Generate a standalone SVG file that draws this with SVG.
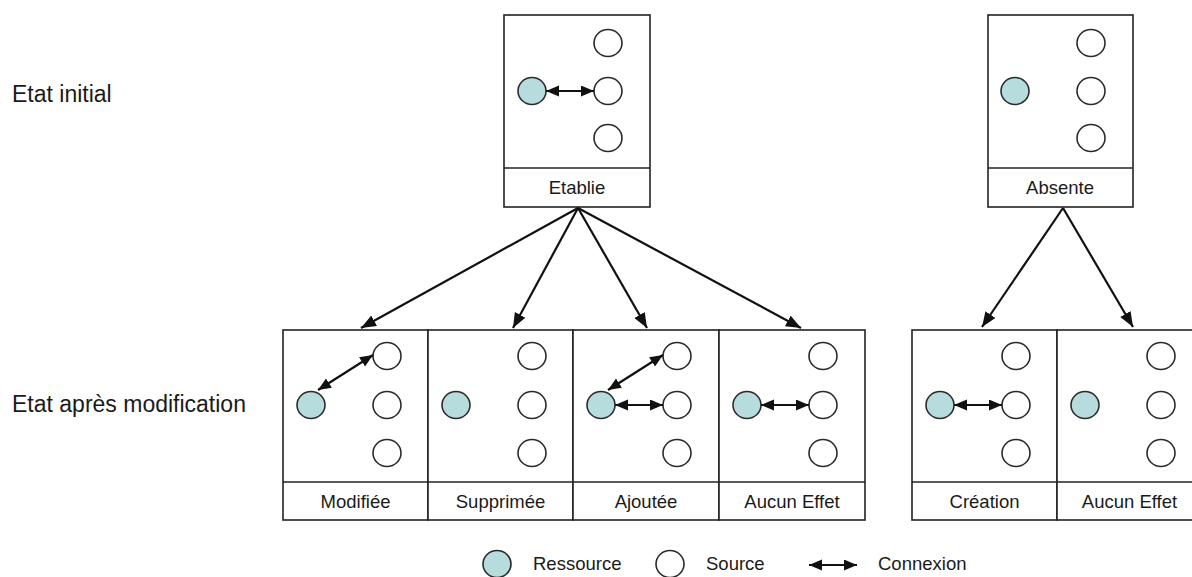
<svg xmlns="http://www.w3.org/2000/svg" width="1192" height="577" viewBox="0 0 1192 577">
<defs>
<style>
.box{fill:#fff;stroke:#222;stroke-width:1.6}
.sep{stroke:#222;stroke-width:1.6}
.res{fill:#b7dcdd;stroke:#2a2a2a;stroke-width:1.6}
.src{fill:#fff;stroke:#2a2a2a;stroke-width:1.6}
.lbl{font-family:"Liberation Sans",Arial,sans-serif;font-size:18.5px;fill:#1a1a1a;text-anchor:middle}
.side{font-family:"Liberation Sans",Arial,sans-serif;font-size:23px;fill:#1a1a1a}
.leg{font-family:"Liberation Sans",Arial,sans-serif;font-size:18.5px;fill:#1a1a1a}
.con{stroke:#111;stroke-width:2.2;fill:none;marker-end:url(#ah)}
.dbl{stroke:#111;stroke-width:2.2;fill:none;marker-start:url(#sh);marker-end:url(#sh)}
</style>
<marker id="ah" markerUnits="userSpaceOnUse" markerWidth="16" markerHeight="13" refX="15" refY="6" orient="auto">
<path d="M0,0 L15,6 L0,12 z" fill="#111"/>
</marker>
<marker id="sh" markerUnits="userSpaceOnUse" markerWidth="14" markerHeight="12" refX="13" refY="5.5" orient="auto-start-reverse">
<path d="M0,0 L13,5.5 L0,11 z" fill="#111"/>
</marker>
</defs>
<rect width="1192" height="577" fill="#fff"/>

<text class="side" x="12" y="102">Etat initial</text>
<text class="side" x="12" y="412">Etat après modification</text>

<g id="etablie">
<rect class="box" x="504" y="15" width="146" height="192"/>
<line class="sep" x1="504" y1="168" x2="650" y2="168"/>
<ellipse class="src" cx="608" cy="43" rx="14" ry="13.5"/>
<ellipse class="src" cx="608" cy="91" rx="14" ry="13.5"/>
<ellipse class="src" cx="608" cy="138" rx="14" ry="13.5"/>
<ellipse class="res" cx="532" cy="91" rx="14" ry="13.5"/>
<line class="dbl" x1="546" y1="91" x2="594" y2="91"/>
<text class="lbl" x="577" y="194">Etablie</text>
</g>

<g id="absente">
<rect class="box" x="988" y="15" width="145" height="192"/>
<line class="sep" x1="988" y1="168" x2="1133" y2="168"/>
<ellipse class="src" cx="1091" cy="43" rx="14" ry="13.5"/>
<ellipse class="src" cx="1091" cy="91" rx="14" ry="13.5"/>
<ellipse class="src" cx="1091" cy="138" rx="14" ry="13.5"/>
<ellipse class="res" cx="1015" cy="91" rx="14" ry="13.5"/>
<text class="lbl" x="1060" y="194">Absente</text>
</g>

<g id="modifiee">
<rect class="box" x="283" y="330" width="145" height="190"/>
<line class="sep" x1="283" y1="482" x2="428" y2="482"/>
<ellipse class="src" cx="387" cy="356" rx="14" ry="13.5"/>
<ellipse class="src" cx="387" cy="405" rx="14" ry="13.5"/>
<ellipse class="src" cx="387" cy="453" rx="14" ry="13.5"/>
<ellipse class="res" cx="311" cy="405" rx="14" ry="13.5"/>
<line class="dbl" x1="318" y1="390" x2="373" y2="355"/>
<text class="lbl" x="355.5" y="508">Modifiée</text>
</g>

<g id="supprimee">
<rect class="box" x="428" y="330" width="145" height="190"/>
<line class="sep" x1="428" y1="482" x2="573" y2="482"/>
<ellipse class="src" cx="532" cy="356" rx="14" ry="13.5"/>
<ellipse class="src" cx="532" cy="405" rx="14" ry="13.5"/>
<ellipse class="src" cx="532" cy="453" rx="14" ry="13.5"/>
<ellipse class="res" cx="456" cy="405" rx="14" ry="13.5"/>
<text class="lbl" x="500.5" y="508">Supprimée</text>
</g>

<g id="ajoutee">
<rect class="box" x="573" y="330" width="146" height="190"/>
<line class="sep" x1="573" y1="482" x2="719" y2="482"/>
<ellipse class="src" cx="677" cy="356" rx="14" ry="13.5"/>
<ellipse class="src" cx="677" cy="405" rx="14" ry="13.5"/>
<ellipse class="src" cx="677" cy="453" rx="14" ry="13.5"/>
<ellipse class="res" cx="601" cy="405" rx="14" ry="13.5"/>
<line class="dbl" x1="608" y1="390" x2="663" y2="355"/>
<line class="dbl" x1="615" y1="405" x2="663" y2="405"/>
<text class="lbl" x="646" y="508">Ajoutée</text>
</g>

<g id="aucun-effet-1">
<rect class="box" x="719" y="330" width="146" height="190"/>
<line class="sep" x1="719" y1="482" x2="865" y2="482"/>
<ellipse class="src" cx="823" cy="356" rx="14" ry="13.5"/>
<ellipse class="src" cx="823" cy="405" rx="14" ry="13.5"/>
<ellipse class="src" cx="823" cy="453" rx="14" ry="13.5"/>
<ellipse class="res" cx="747" cy="405" rx="14" ry="13.5"/>
<line class="dbl" x1="761" y1="405" x2="809" y2="405"/>
<text class="lbl" x="792" y="508">Aucun Effet</text>
</g>

<g id="creation">
<rect class="box" x="912" y="330" width="145" height="190"/>
<line class="sep" x1="912" y1="482" x2="1057" y2="482"/>
<ellipse class="src" cx="1016" cy="356" rx="14" ry="13.5"/>
<ellipse class="src" cx="1016" cy="405" rx="14" ry="13.5"/>
<ellipse class="src" cx="1016" cy="453" rx="14" ry="13.5"/>
<ellipse class="res" cx="940" cy="405" rx="14" ry="13.5"/>
<line class="dbl" x1="954" y1="405" x2="1002" y2="405"/>
<text class="lbl" x="984.5" y="508">Création</text>
</g>

<g id="aucun-effet-2">
<rect class="box" x="1057" y="330" width="145" height="190"/>
<line class="sep" x1="1057" y1="482" x2="1202" y2="482"/>
<ellipse class="src" cx="1161" cy="356" rx="14" ry="13.5"/>
<ellipse class="src" cx="1161" cy="405" rx="14" ry="13.5"/>
<ellipse class="src" cx="1161" cy="453" rx="14" ry="13.5"/>
<ellipse class="res" cx="1085" cy="405" rx="14" ry="13.5"/>
<text class="lbl" x="1129.5" y="508">Aucun Effet</text>
</g>

<g id="connectors">
<line class="con" x1="578" y1="208" x2="361" y2="328"/>
<line class="con" x1="578" y1="208" x2="513" y2="328"/>
<line class="con" x1="578" y1="208" x2="647" y2="328"/>
<line class="con" x1="578" y1="208" x2="801" y2="328"/>
<line class="con" x1="1063" y1="208" x2="982" y2="327"/>
<line class="con" x1="1063" y1="208" x2="1133" y2="327"/>
</g>

<g id="legend">
<ellipse class="res" cx="497" cy="564" rx="14" ry="13.5"/>
<text class="leg" x="533" y="570">Ressource</text>
<ellipse class="src" cx="670" cy="564" rx="14" ry="13.5"/>
<text class="leg" x="706" y="570">Source</text>
<line class="dbl" x1="809" y1="565" x2="857" y2="565"/>
<text class="leg" x="878" y="570">Connexion</text>
</g>
</svg>
